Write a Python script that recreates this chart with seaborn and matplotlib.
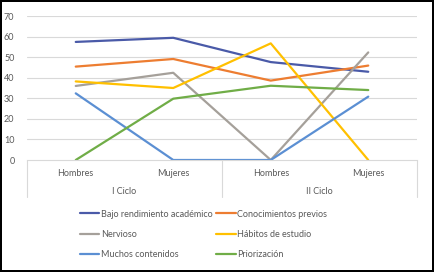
import matplotlib
matplotlib.use("Agg")
import matplotlib.pyplot as plt
import seaborn as sns
import pandas as pd
from matplotlib.lines import Line2D

groups = ["Hombres", "Mujeres", "Hombres", "Mujeres"]
cycles = ["I Ciclo", "II Ciclo"]
series = ["Bajo rendimiento académico", "Conocimientos previos", "Nervioso",
          "Hábitos de estudio", "Muchos contenidos", "Priorización"]
bajo = [57.4, 59.4, 47.6, 42.9]
conoc = [45.4, 49.1, 38.6, 45.9]
nerv = [36.0, 42.4, 0.0, 52.3]
habitos = [38.2, 35.0, 56.7, 0.0]
muchos = [32.4, 0.0, 0.0, 30.8]
prior = [0.0, 29.8, 36.1, 34.0]
yticks = [0, 10, 20, 30, 40, 50, 60, 70]

colors = ["#4A5AA8", "#ED7D31", "#A5A09A", "#FFC000", "#5B8FD3", "#70AD47"]
values = [bajo, conoc, nerv, habitos, muchos, prior]

rows = []
for name, vals in zip(series, values):
    for i, v in enumerate(vals):
        rows.append({"pos": i, "serie": name, "valor": v})
df = pd.DataFrame(rows)

sns.set_style("white")
plt.rcParams["font.family"] = ["Lato", "DejaVu Sans"]

fig = plt.figure(figsize=(4.34, 2.72), dpi=100)
fig.patch.set_edgecolor("black")
fig.patch.set_linewidth(1.5)
ax = fig.add_axes([27/434, 1-160/272, 390/434, 144/272])

sns.lineplot(data=df, x="pos", y="valor", hue="serie", hue_order=series,
             palette=colors, linewidth=1.6, ax=ax, legend=False)

ax.set_xlim(-0.5, 3.5)
ax.set_ylim(0, 70)
ax.set_yticks(yticks)
ax.set_yticklabels([str(t) for t in yticks], fontsize=6.5, color="#595959")
ax.tick_params(axis="y", length=0, pad=9)
ax.set_xticks([])
ax.set_xlabel("")
ax.set_ylabel("")
for y in yticks[1:]:
    ax.axhline(y, color="#D9D9D9", linewidth=0.8, zorder=0)
for s in ["top", "right", "left"]:
    ax.spines[s].set_visible(False)
ax.spines["bottom"].set_color("#D9D9D9")
ax.spines["bottom"].set_linewidth(0.8)

# category axis table
for xv in [-0.5, 1.5, 3.5]:
    ax.plot([xv, xv], [0, -0.26], transform=ax.get_xaxis_transform(),
            color="#D9D9D9", linewidth=0.8, clip_on=False)
for i, g in enumerate(groups):
    ax.text(i, -0.095, g, transform=ax.get_xaxis_transform(), ha="center",
            va="center", fontsize=6.5, color="#595959")
for j, c in enumerate(cycles):
    ax.text(0.5 + 2*j, -0.22, c, transform=ax.get_xaxis_transform(), ha="center",
            va="center", fontsize=6.5, color="#595959")

handles = [Line2D([0], [0], color=c, linewidth=1.6) for c in colors]
order = [0, 2, 4, 1, 3, 5]
fig.legend([handles[i] for i in order], [series[i] for i in order],
           ncol=2, loc="upper left", bbox_to_anchor=(75/434, 1-205/272),
           frameon=False, fontsize=6.5, handlelength=2.2, handletextpad=0.2,
           columnspacing=0.3, labelspacing=1.25, labelcolor="#595959",
           borderpad=0)

fig.savefig("out.png", dpi=100)
